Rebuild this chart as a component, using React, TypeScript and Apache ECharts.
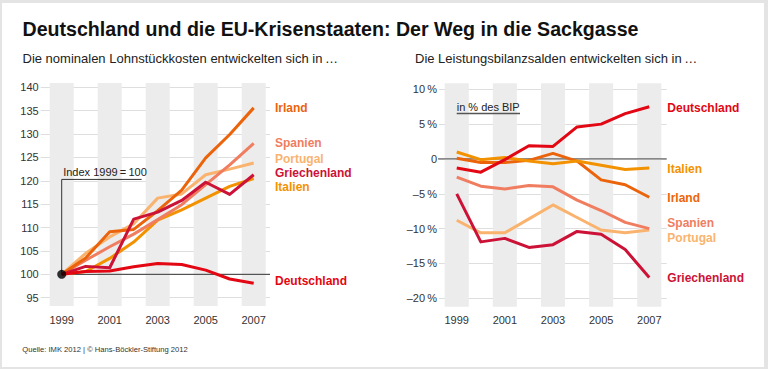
import { useEffect, useRef } from 'react';
import * as echarts from 'echarts';

// ---------- data ----------
const YEARS = [1999, 2000, 2001, 2002, 2003, 2004, 2005, 2006, 2007];
const YEAR_LABELS = ['1999', '2000', '2001', '2002', '2003', '2004', '2005', '2006', '2007'];

// Nominal unit labour costs, index 1999 = 100
const ULC_ITALIEN = [100, 100.6, 103.4, 106.9, 111.6, 113.8, 116.3, 118.8, 120.5];
const ULC_PORTUGAL = [100, 104.5, 108.0, 110.8, 116.3, 117.2, 121.3, 122.5, 123.8];
const ULC_SPANIEN = [100, 103.0, 105.9, 108.6, 111.7, 114.9, 119.2, 123.4, 128.0];
const ULC_IRLAND = [100, 103.5, 109.1, 109.6, 113.6, 118.0, 124.9, 129.9, 135.6];
const ULC_GRIECHENLAND = [100, 101.7, 101.4, 111.8, 113.3, 115.8, 119.7, 117.1, 121.3];
const ULC_DEUTSCHLAND = [100, 100.6, 100.7, 101.6, 102.3, 102.1, 100.9, 99.0, 98.1];

// Current account balances, % of GDP
const CA_PORTUGAL = [-8.8, -10.6, -10.6, -8.6, -6.6, -8.4, -10.2, -10.6, -10.2];
const CA_SPANIEN = [-2.6, -3.9, -4.3, -3.8, -4.0, -5.9, -7.4, -9.1, -10.0];
const CA_GRIECHENLAND = [-5.0, -11.9, -11.4, -12.7, -12.3, -10.4, -10.8, -13.0, -17.0];
const CA_IRLAND = [0.1, -0.5, -0.5, -0.2, 0.8, -0.3, -3.0, -3.7, -5.5];
const CA_ITALIEN = [1.0, -0.1, 0.2, -0.3, -0.7, -0.3, -0.9, -1.5, -1.3];
const CA_DEUTSCHLAND = [-1.3, -1.9, -0.1, 1.9, 1.8, 4.6, 5.0, 6.5, 7.5];

const LEFT_Y_TICKS = { min: 95, max: 140, step: 5 };
const RIGHT_Y_TICKS = { min: -20, max: 10, step: 5 };
const INDEX_BASE = 100;
const INDEX_NOTE_LEVEL = 120.3;
const INDEX_NOTE_END = 2002.33;

// ---------- style ----------
const FONT = '"Liberation Sans", Arial, sans-serif';
const C = {
  deutschland: '#e30613',
  griechenland: '#cc1236',
  irland: '#eb640b',
  spanien: '#f07d5f',
  portugal: '#f9b36e',
  italien: '#f39200',
};

// ---------- layout ----------
const L_BAND = { left: 49.7, top: 83, width: 216, height: 223 };
const L_DATA = { left: 40.7, top: 87.3, width: 229.3, height: 210.4 };
const L_YW = L_BAND.width / 9;
const R_BAND = { left: 444.7, top: 83.3, width: 216.6, height: 223.4 };
const R_DATA = { left: 439, top: 89.3, width: 227.7, height: 209 };
const R_YW = R_BAND.width / 9;

const lc1999 = L_BAND.left + L_YW / 2;
const lxMin = 1999 - (lc1999 - L_DATA.left) / L_YW;
const lxMax = 2007 + (L_DATA.left + L_DATA.width - (lc1999 + 8 * L_YW)) / L_YW;
const rc1999 = R_BAND.left + R_YW / 2;
const rxMin = 1999 - (rc1999 - R_DATA.left) / R_YW;
const rxMax = 2007 + (R_DATA.left + R_DATA.width - (rc1999 + 8 * R_YW)) / R_YW;
const rZeroStart = rxMin - 8.3 / R_YW;

const pairs = (vals: number[]) => YEARS.map((y, i) => [y, vals[i]]);

const lineSeries = (name: string, vals: number[], color: string, xi: number, yi: number) => ({
  type: 'line',
  name,
  xAxisIndex: xi,
  yAxisIndex: yi,
  data: pairs(vals),
  symbol: 'none',
  silent: true,
  z: 3,
  lineStyle: { width: 3, color, join: 'round', cap: 'butt' },
  itemStyle: { color },
});

const bandX = (gi: number) => ({
  gridIndex: gi,
  type: 'category',
  data: YEAR_LABELS,
  boundaryGap: true,
  axisLine: { show: false },
  axisTick: { show: false },
  splitLine: { show: false },
  axisLabel: { interval: 1, fontSize: 11, color: '#333', margin: 8, fontFamily: FONT },
  splitArea: { show: true, interval: 0, areaStyle: { color: ['#ececec', 'rgba(255,255,255,0)'] } },
});

const LEFT_LABELS = [
  { text: 'Irland', color: C.irland, y: 108.3 },
  { text: 'Spanien', color: C.spanien, y: 143.3 },
  { text: 'Portugal', color: C.portugal, y: 159.3 },
  { text: 'Griechenland', color: C.griechenland, y: 173 },
  { text: 'Italien', color: C.italien, y: 186.7 },
  { text: 'Deutschland', color: C.deutschland, y: 281 },
];
const RIGHT_LABELS = [
  { text: 'Deutschland', color: C.deutschland, y: 107.7 },
  { text: 'Italien', color: C.italien, y: 168.7 },
  { text: 'Irland', color: C.irland, y: 197.7 },
  { text: 'Spanien', color: C.spanien, y: 223.3 },
  { text: 'Portugal', color: C.portugal, y: 237.7 },
  { text: 'Griechenland', color: C.griechenland, y: 277.7 },
];

const txt = (text: string, x: number, y: number, font: string, fill: string) => ({
  type: 'text',
  x,
  y,
  silent: true,
  style: { text, font, fill, verticalAlign: 'middle', align: 'left' },
});

export default function App() {
  const ref = useRef<HTMLDivElement>(null);
  useEffect(() => {
    const chart = echarts.init(ref.current!, null, { renderer: 'svg', width: 768, height: 369 });
    chart.setOption({
      animation: false,
      backgroundColor: '#ffffff',
      textStyle: { fontFamily: FONT },
      grid: [
        { ...L_BAND, containLabel: false },
        { ...L_DATA, containLabel: false },
        { ...R_BAND, containLabel: false },
        { ...R_DATA, containLabel: false },
      ],
      xAxis: [
        bandX(0),
        { gridIndex: 1, type: 'value', min: lxMin, max: lxMax, show: false },
        bandX(2),
        { gridIndex: 3, type: 'value', min: rxMin, max: rxMax, show: false },
      ],
      yAxis: [
        { gridIndex: 0, type: 'value', min: 0, max: 1, show: false },
        {
          gridIndex: 1,
          type: 'value',
          min: LEFT_Y_TICKS.min,
          max: LEFT_Y_TICKS.max,
          interval: LEFT_Y_TICKS.step,
          axisLine: { show: false },
          axisTick: { show: false },
          axisLabel: { fontSize: 11, color: '#333', margin: 2, fontFamily: FONT },
          splitLine: { lineStyle: { color: '#dedede', width: 1 } },
        },
        { gridIndex: 2, type: 'value', min: 0, max: 1, show: false },
        {
          gridIndex: 3,
          type: 'value',
          min: RIGHT_Y_TICKS.min,
          max: RIGHT_Y_TICKS.max,
          interval: RIGHT_Y_TICKS.step,
          axisLine: { show: false },
          axisTick: { show: false },
          axisLabel: {
            fontSize: 11,
            color: '#333',
            margin: 2,
            fontFamily: FONT,
            formatter: (v: number) => (v === 0 ? '0' : (v < 0 ? '\u2013' : '') + Math.abs(v) + '\u2009%'),
          },
          splitLine: { lineStyle: { color: '#dedede', width: 1 } },
        },
      ],
      series: [
        {
          type: 'line',
          xAxisIndex: 1,
          yAxisIndex: 1,
          data: [[1999, INDEX_BASE], [lxMax, INDEX_BASE]],
          symbol: 'none',
          silent: true,
          z: 2,
          lineStyle: { width: 1, color: '#333' },
        },
        {
          type: 'line',
          xAxisIndex: 1,
          yAxisIndex: 1,
          data: [[1999, INDEX_BASE], [1999, INDEX_NOTE_LEVEL], [INDEX_NOTE_END, INDEX_NOTE_LEVEL]],
          symbol: 'none',
          silent: true,
          z: 2,
          lineStyle: { width: 1, color: '#333' },
        },
        lineSeries('Italien', ULC_ITALIEN, C.italien, 1, 1),
        lineSeries('Portugal', ULC_PORTUGAL, C.portugal, 1, 1),
        lineSeries('Spanien', ULC_SPANIEN, C.spanien, 1, 1),
        lineSeries('Irland', ULC_IRLAND, C.irland, 1, 1),
        lineSeries('Griechenland', ULC_GRIECHENLAND, C.griechenland, 1, 1),
        lineSeries('Deutschland', ULC_DEUTSCHLAND, C.deutschland, 1, 1),
        {
          type: 'scatter',
          xAxisIndex: 1,
          yAxisIndex: 1,
          data: [[1999, INDEX_BASE]],
          symbolSize: 9,
          silent: true,
          z: 5,
          itemStyle: { color: '#000' },
        },
        {
          type: 'line',
          xAxisIndex: 3,
          yAxisIndex: 3,
          data: [[rZeroStart, 0], [rxMax, 0]],
          clip: false,
          symbol: 'none',
          silent: true,
          z: 2,
          lineStyle: { width: 1.3, color: '#666' },
        },
        lineSeries('Portugal', CA_PORTUGAL, C.portugal, 3, 3),
        lineSeries('Spanien', CA_SPANIEN, C.spanien, 3, 3),
        lineSeries('Griechenland', CA_GRIECHENLAND, C.griechenland, 3, 3),
        lineSeries('Irland', CA_IRLAND, C.irland, 3, 3),
        lineSeries('Italien', CA_ITALIEN, C.italien, 3, 3),
        lineSeries('Deutschland', CA_DEUTSCHLAND, C.deutschland, 3, 3),
      ],
    });

    const pNote = chart.convertToPixel({ gridIndex: 1 }, [1999, INDEX_NOTE_LEVEL]) as number[];
    const bold = `bold 12px ${FONT}`;
    const graphic: any[] = [
      // frame
      { type: 'rect', silent: true, shape: { x: 0, y: 0, width: 768, height: 3 }, style: { fill: '#e4e4e4' } },
      { type: 'rect', silent: true, shape: { x: 0, y: 367, width: 768, height: 2 }, style: { fill: '#e4e4e4' } },
      { type: 'rect', silent: true, shape: { x: 0, y: 0, width: 2, height: 369 }, style: { fill: '#e4e4e4' } },
      { type: 'rect', silent: true, shape: { x: 764, y: 0, width: 4, height: 369 }, style: { fill: '#e4e4e4' } },
      txt('Deutschland und die EU-Krisenstaaten: Der Weg in die Sackgasse', 22.5, 28.5, `bold 19.6px ${FONT}`, '#111'),
      txt('Die nominalen Lohnstückkosten entwickelten sich in\u2009…', 22.5, 58.5, `13px ${FONT}`, '#222'),
      txt('Die Leistungsbilanzsalden entwickelten sich in\u2009…', 415, 58.5, `13px ${FONT}`, '#222'),
      txt('Quelle: IMK 2012 | © Hans-Böckler-Stiftung 2012', 22.3, 349.5, `7.6px ${FONT}`, '#333'),
      txt('Index 1999\u2009=\u2009100', pNote[0] + 1.5, pNote[1] - 7.5, `11px ${FONT}`, '#222'),
      txt('in % des BIP', 456.7, 106.8, `11px ${FONT}`, '#222'),
      {
        type: 'line',
        silent: true,
        shape: { x1: 456.7, y1: 113.5, x2: 520, y2: 113.5 },
        style: { stroke: '#555', lineWidth: 1.3 },
      },
      ...LEFT_LABELS.map((l) => txt(l.text, 275, l.y, bold, l.color)),
      ...RIGHT_LABELS.map((l) => txt(l.text, 667.3, l.y, bold, l.color)),
    ];
    chart.setOption({ graphic });
    return () => chart.dispose();
  }, []);
  return <div ref={ref} style={{ position: 'fixed', left: 0, top: 0, width: 768, height: 369 }} />;
}
